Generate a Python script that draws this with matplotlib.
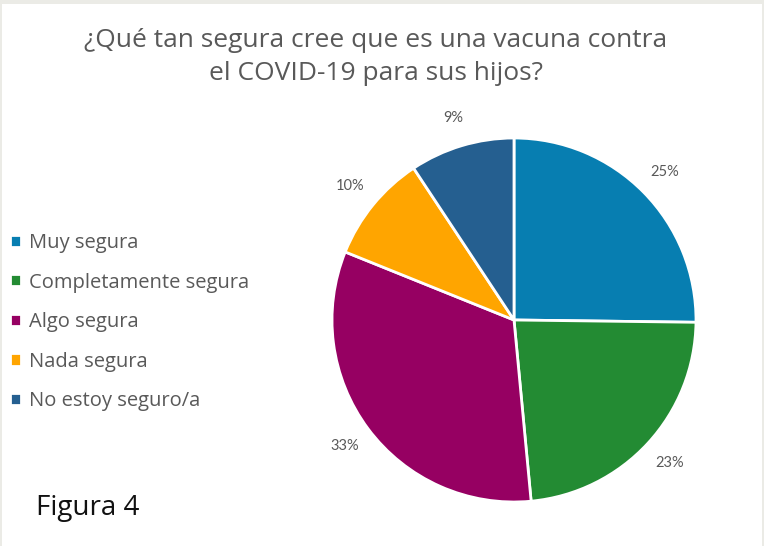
import matplotlib
matplotlib.use("Agg")
import matplotlib.pyplot as plt
from matplotlib.patches import Rectangle

categories = ["Muy segura", "Completamente segura", "Algo segura",
              "Nada segura", "No estoy seguro/a"]
values = [25.2, 23.3, 32.6, 9.6, 9.3]
colors = ["#077EB1", "#238B33", "#960062", "#FFA500", "#255F90"]
title = "¿Qué tan segura cree que es una vacuna contra\nel COVID-19 para sus hijos?"

W, H = 764, 546
fig = plt.figure(figsize=(W / 100, H / 100), dpi=100, facecolor="#EBEBE6")
fig.patches.append(Rectangle((2 / W, 0), 760 / W, 542 / H, transform=fig.transFigure,
                             facecolor="white", edgecolor="none", zorder=-5))

# axes in pixel units over the whole figure
ax = fig.add_axes([0, 0, 1, 1])
wedges, texts = ax.pie(values, colors=colors, startangle=90, counterclock=False,
                       center=(514, H - 320), radius=182,
                       labels=[f"{v:.0f}%" for v in values], labeldistance=1.16,
                       wedgeprops=dict(edgecolor="white", linewidth=2),
                       textprops=dict(color="#595959", fontsize=10.5, family="Lato"))
for t in texts:
    t.set_ha("center")
    t.set_va("center")
ax.set_xlim(0, W)
ax.set_ylim(0, H)
ax.set_aspect("equal")
ax.axis("off")

fig.text(376 / W, 1 - 57 / H, title, ha="center", va="center", fontsize=19,
         color="#595959", family="Open Sans", linespacing=1.38)

fig.legend(wedges, categories, loc="upper left", bbox_to_anchor=(10 / W, 1 - 233 / H),
           frameon=False, prop=dict(family="Open Sans", size=14.5),
           labelcolor="#595959", handlelength=0.55, handleheight=0.55,
           handletextpad=0.4, labelspacing=0.97, borderpad=0, borderaxespad=0)

fig.text(36 / W, 1 - 508 / H, "Figura 4", ha="left", va="center", fontsize=20,
         color="#111111", family="Open Sans")

plt.savefig("out.png", dpi=100, facecolor=fig.get_facecolor())
